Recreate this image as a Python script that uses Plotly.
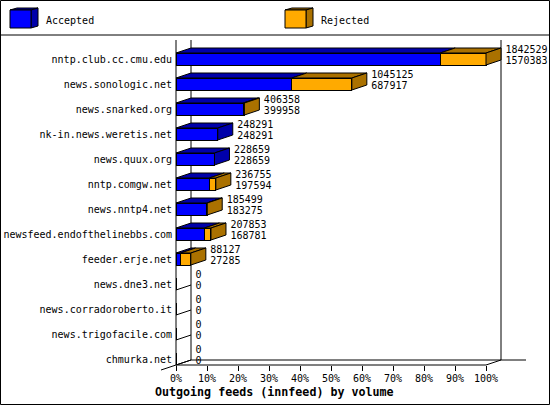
"""
Outgoing feeds (innfeed) by volume, drawn like the old GD 3D bar chart.
"""
import plotly.graph_objects as go

hosts = [
    "nntp.club.cc.cmu.edu", "news.sonologic.net", "news.snarked.org",
    "nk-in.news.weretis.net", "news.quux.org", "nntp.comgw.net",
    "news.nntp4.net", "newsfeed.endofthelinebbs.com", "feeder.erje.net",
    "news.dne3.net", "news.corradoroberto.it", "news.trigofacile.com",
    "chmurka.net",
]
offered = [1842529, 1045125, 406358, 248291, 228659, 236755, 185499, 207853, 88127, 0, 0, 0, 0]
accepted = [1570383, 687917, 399958, 248291, 228659, 197594, 183275, 168781, 27285, 0, 0, 0, 0]
x_ticks = list(range(0, 101, 10))
x_labels = [f"{t}%" for t in x_ticks]

FONT = "DejaVu Sans Mono"
BLUE, BLUE_DARK = "#0000FF", "#0000AA"
ORANGE, ORANGE_DARK = "#FFAA00", "#AA7100"

# plot area in pixels, the rest of the picture hangs off these
LEFT, RIGHT, TOP, BOTTOM = 176, 526, 40, 365
PX_X = 3.1  # pixels per percent
PX_Y = 25  # pixels per row
DEPTH_X = 15 / PX_X
DEPTH_Y = 5 / PX_Y
HALF = 6 / PX_Y
rows = list(range(len(hosts)))


def x_at(px):
    return (px - LEFT) / PX_X


def y_at(py):
    return (py - 59) / PX_Y


# picture pixels to paper coordinates, for what sits outside the plot area
def px_x(px):
    return (px - LEFT) / (RIGHT - LEFT)


def px_y(py):
    return (BOTTOM - py) / (BOTTOM - TOP)


scale = max(offered)
acc_pct = [v / scale * 100 for v in accepted]
off_pct = [v / scale * 100 for v in offered]
rej_pct = [o - a for o, a in zip(off_pct, acc_pct)]


def face(polys):
    xs, ys = [], []
    for poly in polys:
        xs += [p[0] for p in poly] + [poly[0][0], None]
        ys += [p[1] for p in poly] + [poly[0][1], None]
    return xs, ys


def top_face(a, b, r):
    t = r - HALF
    return [(a, t), (b, t), (b + DEPTH_X, t - DEPTH_Y), (a + DEPTH_X, t - DEPTH_Y)]


def side_face(e, r):
    t, b = r - HALF, r + HALF
    return [(e, t), (e, b), (e + DEPTH_X, b - DEPTH_Y), (e + DEPTH_X, t - DEPTH_Y)]


fig = go.Figure()
fig.add_bar(y=rows, x=acc_pct, orientation="h", width=2 * HALF, hoverinfo="skip",
            marker=dict(color=BLUE, line=dict(color="black", width=1)))
fig.add_bar(y=rows, x=rej_pct, orientation="h", width=2 * HALF, hoverinfo="skip",
            marker=dict(color=ORANGE, line=dict(color="black", width=1)))

shown = [r for r in rows if offered[r] > 0]
faces = [
    (BLUE_DARK, [top_face(0, acc_pct[r], r) for r in shown]),
    (ORANGE_DARK, [top_face(acc_pct[r], off_pct[r], r) for r in shown if rej_pct[r] > 0]),
    (BLUE_DARK, [side_face(off_pct[r], r) for r in shown if rej_pct[r] == 0]),
    (ORANGE_DARK, [side_face(off_pct[r], r) for r in shown if rej_pct[r] > 0]),
]
for color, polys in faces:
    xs, ys = face(polys)
    fig.add_scatter(x=xs, y=ys, mode="lines", fill="toself", fillcolor=color,
                    line=dict(color="black", width=1), hoverinfo="skip")

# value labels, offered above accepted
label_x = [o + DEPTH_X + 4.5 / PX_X for o in off_pct]
fig.add_scatter(x=label_x, y=[r - 9 / PX_Y for r in rows], mode="text",
                text=[str(v) for v in offered], textposition="middle right",
                textfont=dict(family=FONT, size=10, color="black"),
                cliponaxis=False, hoverinfo="skip")
fig.add_scatter(x=label_x, y=[r + 2 / PX_Y for r in rows], mode="text",
                text=[str(v) for v in accepted], textposition="middle right",
                textfont=dict(family=FONT, size=10, color="black"),
                cliponaxis=False, hoverinfo="skip")


def line(px0, py0, px1, py1):
    return dict(type="line", xref="paper", yref="paper", layer="below",
                x0=px_x(px0), y0=px_y(py0), x1=px_x(px1), y1=px_y(py1),
                line=dict(color="black", width=1))


shapes = [
    line(LEFT, TOP, LEFT, BOTTOM),
    line(LEFT + 15, TOP, LEFT + 15, BOTTOM - 5),
    line(501, TOP, 501, BOTTOM - 5),
    line(LEFT + 15, BOTTOM - 5, RIGHT, BOTTOM - 5),
    line(LEFT, BOTTOM, 486, BOTTOM),
    line(486, BOTTOM, 501, BOTTOM - 5),
    line(161, 370, LEFT + 15, BOTTOM - 5),
]
for r in rows:
    shapes.append(line(LEFT, 65 + r * PX_Y, LEFT + 15, 60 + r * PX_Y))

# frame and legend
shapes.append(dict(type="rect", xref="paper", yref="paper", layer="below",
                   x0=px_x(0.5), x1=px_x(549.5), y0=px_y(0.5), y1=px_y(404.5),
                   line=dict(color="black", width=1)))
shapes.append(line(0, 35, 550, 35))


def swatch(px, color, dark):
    out = []
    for pts, fill in [
        ([(px, 10), (px + 7, 8), (px + 28, 8), (px + 21, 10)], dark),
        ([(px + 21, 10), (px + 28, 8), (px + 28, 26), (px + 21, 28)], dark),
        ([(px, 10), (px + 21, 10), (px + 21, 28), (px, 28)], color),
    ]:
        path = "M " + " L ".join(f"{px_x(a)},{px_y(b)}" for a, b in pts) + " Z"
        out.append(dict(type="path", xref="paper", yref="paper", path=path, fillcolor=fill,
                        line=dict(color="black", width=1)))
    return out


shapes += swatch(10, BLUE, BLUE_DARK) + swatch(285, ORANGE, ORANGE_DARK)

annotations = [
    dict(text="Accepted", x=px_x(44), y=px_y(20), xref="paper", yref="paper",
         xanchor="left", yanchor="middle", showarrow=False,
         font=dict(family=FONT, size=10, color="black")),
    dict(text="Rejected", x=px_x(319), y=px_y(20), xref="paper", yref="paper",
         xanchor="left", yanchor="middle", showarrow=False,
         font=dict(family=FONT, size=10, color="black")),
    dict(text="<b>Outgoing feeds (innfeed) by volume</b>", x=px_x(274), y=px_y(392),
         xref="paper", yref="paper", xanchor="center", yanchor="middle", showarrow=False,
         font=dict(family=FONT, size=11.67, color="black")),
]

fig.update_layout(
    template="none",
    width=550, height=405, autosize=False, barmode="stack", showlegend=False,
    paper_bgcolor="white", plot_bgcolor="white",
    margin=dict(l=LEFT, r=550 - RIGHT, t=TOP, b=405 - BOTTOM, pad=0, autoexpand=False),
    shapes=shapes, annotations=annotations,
    font=dict(family=FONT, size=10, color="black"),
)
fig.update_xaxes(range=[0, (RIGHT - LEFT) / PX_X], tickvals=x_ticks, ticktext=x_labels,
                 ticks="outside", ticklen=5, tickcolor="black", tickwidth=1,
                 showgrid=False, zeroline=False, showline=False, automargin=False,
                 ticklabelstandoff=-1,
                 tickfont=dict(family=FONT, size=10, color="black"))
fig.update_yaxes(range=[y_at(BOTTOM), y_at(TOP)], tickvals=rows, ticktext=hosts,
                 showgrid=False, zeroline=False, showline=False, ticks="", automargin=False,
                 ticklabelstandoff=3,
                 tickfont=dict(family=FONT, size=10, color="black"))

fig.write_html("out.html", config=dict(displayModeBar=False),
               post_script="document.body.style.margin='0';")
